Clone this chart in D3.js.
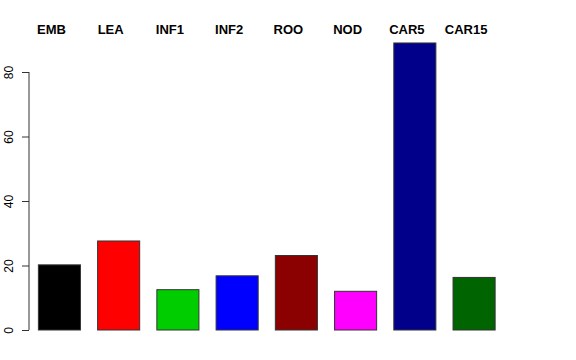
<!DOCTYPE html>
<html>
<head>
<meta charset="utf-8">
<script src="https://cdn.jsdelivr.net/npm/d3@7"></script>
<style>
  body { margin: 0; background: #fff; }
  svg { display: block; font-family: "Liberation Sans", Arial, Helvetica, sans-serif; }
</style>
</head>
<body>
<svg id="main-svg" width="576" height="360"></svg>
<script>
var categories = [ 'EMB', 'LEA', 'INF1', 'INF2', 'ROO', 'NOD', 'CAR5', 'CAR15' ];
var values = [ 20.2, 27.6, 12.5, 16.8, 23.1, 12.0, 89.0, 16.3 ];
var colors = [ '#000000', '#ff0000', '#00cd00', '#0000ff', '#8b0000', '#ff00ff', '#00008b', '#006400' ];
var yTicks = [ 0, 20, 40, 60, 80 ];

var svg = d3.select( 'svg#main-svg' );

// plot region roughly like R's default barplot margins
var x = d3.scaleBand()
	.domain( categories )
	.range( [ 29.5, 504 ] )
	.paddingInner( 0.29 )
	.paddingOuter( 0.15 );

var y = d3.scaleLinear()
	.domain( [ 0, 80 ] )
	.range( [ 330, 72 ] );

// bars
svg.append( 'g' )
	.selectAll( 'rect' )
	.data( values )
	.join( 'rect' )
	.attr( 'x', function( d, i ) { return x( categories[ i ] ); } )
	.attr( 'y', function( d ) { return y( d ); } )
	.attr( 'width', x.bandwidth() )
	.attr( 'height', function( d ) { return y( 0 ) - y( d ); } )
	.attr( 'fill', function( d, i ) { return colors[ i ]; } )
	.attr( 'stroke', '#333' )
	.attr( 'stroke-width', 1 );

// y axis, R style: rotated labels
var axis = svg.append( 'g' )
	.attr( 'transform', 'translate(29,0)' )
	.call( d3.axisLeft( y ).tickValues( yTicks ).tickSize( 7 ).tickFormat( d3.format( 'd' ) ) );

axis.select( '.domain' ).attr( 'stroke', '#333' ).attr( 'd', 'M0,' + y( 0 ) + 'V' + y( 80 ) );
axis.selectAll( '.tick line' ).attr( 'stroke', '#333' );
axis.selectAll( '.tick text' )
	.attr( 'x', null )
	.attr( 'dy', null )
	.attr( 'transform', 'translate(-16,0) rotate(-90)' )
	.attr( 'text-anchor', 'middle' )
	.attr( 'font-size', 12 )
	.attr( 'font-family', '"Liberation Sans", Arial, sans-serif' )
	.attr( 'fill', '#000' );

// category labels on top
svg.append( 'g' )
	.selectAll( 'text' )
	.data( categories )
	.join( 'text' )
	.attr( 'x', function( d ) { return x( d ) + x.bandwidth() / 2 - 8; } )
	.attr( 'y', 34 )
	.attr( 'text-anchor', 'middle' )
	.attr( 'font-size', 13 )
	.attr( 'font-weight', 'bold' )
	.text( function( d ) { return d; } );
</script>
</body>
</html>
